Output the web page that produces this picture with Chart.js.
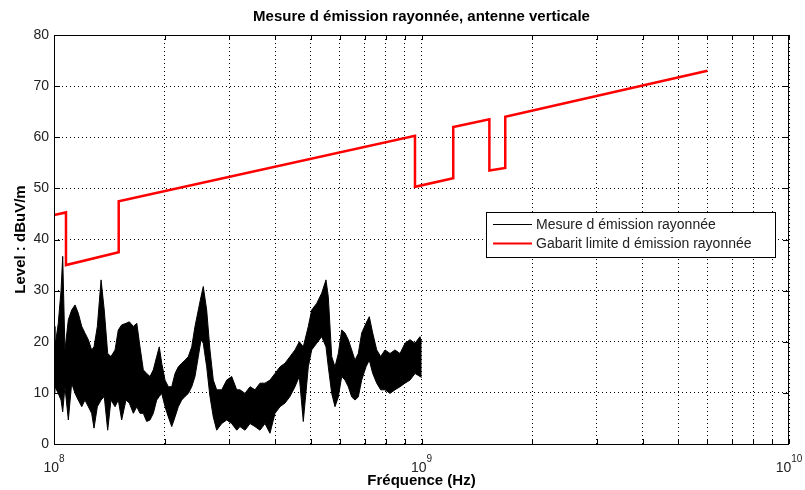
<!DOCTYPE html>
<html>
<head>
<meta charset="utf-8">
<script src="https://cdn.jsdelivr.net/npm/chart.js@4.4.1/dist/chart.umd.min.js"></script>
<style>
  html, body { margin: 0; padding: 0; background: #fff; }
  #wrap { width: 805px; height: 490px; }
</style>
</head>
<body>
<div id="wrap"><canvas id="chart" width="805" height="490"></canvas></div>
<script>
const measFreqMHz = [
  100, 100.6, 102.7, 104.5, 105.6, 107.1, 109.4, 111.7, 114.1, 116.4, 119.0, 121.4, 124.0, 126.6,
  128.5, 131.2, 134.3, 137.0, 140.0, 142.9, 146.6, 149.6, 152.8, 157.0, 160.3, 164.4, 168.0, 171.4,
  175.0, 178.7, 182.5, 186.3, 190.3, 193.4, 196.4, 200.5, 204.7, 209.1, 213.5, 217.9, 222.6, 227.3,
  232.0, 237.0, 241.9, 247.0, 251.2, 254.8, 260.3, 265.7, 271.3, 277.1, 286.0, 295.1, 304.5, 314.2,
  320.7, 330.9, 341.5, 352.3, 363.5, 375.1, 387.0, 399.4, 412.1, 425.2, 438.7, 452.7, 465.0, 476.8,
  492.0, 502.6, 518.6, 535.1, 549.7, 557.7, 569.7, 581.6, 593.8, 606.5, 619.2, 632.2, 645.8, 659.2,
  673.0, 687.5, 706.3, 721.0, 736.6, 755.3, 774.4, 795.6, 820.9, 847.0, 874.0, 901.8, 930.5, 960.1,
  990.6, 1000
];
const measHigh = [
  23, 19, 23.6, 30, 36.7, 18.4, 24.3, 26.2, 27.2, 25.6, 23, 21.7, 20.4, 18.4,
  19, 23, 32.1, 26.2, 17.7, 17.1, 18.4, 22.3, 23.3, 23.6, 23.9, 23, 23.6, 19,
  14.5, 13.8, 13.2, 14.5, 17.1, 19, 15.8, 12.5, 11.2, 11.2, 13.8, 15.1, 15.8, 16.4,
  17.1, 19, 23, 26.2, 28.8, 30.8, 26.2, 18.4, 12.5, 10.6, 10.6, 12.5, 13.2, 10.6,
  10.6, 9.9, 11.2, 10.6, 11.9, 11.9, 12.5, 13.8, 15.1, 15.8, 17.1, 18.4, 20, 19,
  23, 26.2, 27.5, 29.5, 32.1, 28.8, 17.1, 15.1, 17.7, 22.3, 21.7, 20.4, 18.4, 16.4,
  17.7, 21.7, 23.6, 24.9, 21.7, 18.4, 17.1, 18.4, 17.7, 18.4, 17.7, 19.7, 20.4, 19.7,
  21, 20
];
const measLow = [
  10, 11.2, 9.9, 8.6, 6.3, 11.2, 4.7, 11.9, 9.9, 8.6, 7.3, 8.6, 7.3, 6,
  3.1, 7.3, 8.6, 9.3, 2.7, 8.6, 7.3, 8.6, 4.7, 8.6, 8, 6, 7.3, 6,
  6, 4.4, 4.7, 6, 8.6, 9.3, 9.9, 7.3, 5.3, 3.4, 5.3, 7.3, 8.6, 9.3,
  9.9, 11.2, 13.2, 17.1, 20.4, 19.7, 15.1, 9.3, 5.3, 2.7, 4, 4.7, 4, 2.7,
  3.4, 2.7, 4, 3.4, 2.7, 4, 2.1, 6, 7.3, 8, 9.3, 11.2, 13.2, 4.4,
  15.1, 18.4, 19.7, 21, 19, 15.1, 9.9, 7.3, 9.2, 13.2, 12.5, 11.2, 9.2, 8.6,
  9.2, 12.5, 15.1, 16.4, 13.8, 11.9, 10.6, 10.6, 9.9, 10.6, 11.2, 11.9, 12.5, 13.8,
  13.2, 13
];

// Emission limit mask (Hz, dBuV/m)
const limitFreqHz = [1e8, 1.078e8, 1.078e8, 1.5e8, 1.5e8, 9.6e8, 9.6e8, 1.22e9, 1.22e9, 1.53e9, 1.53e9, 1.69e9, 1.69e9, 6e9];
const limitLevel  = [44.8, 45.3, 35, 37.5, 47.5, 60.3, 50.3, 52, 62, 63.5, 53.5, 54, 64, 73];

const X_DECADES = [8, 9, 10];
const Y_TICKS = [0, 10, 20, 30, 40, 50, 60, 70, 80];
const LEGEND_LABELS = ['Mesure d émission rayonnée', 'Gabarit limite d émission rayonnée'];

const FONT = "'Liberation Sans', Arial, Helvetica, sans-serif";
Chart.defaults.font.family = FONT;

// log grid positions: 1..9 x 10^n
const xGrid = [];
for (let e = 8; e < 10; e++) {
  for (let m = 1; m < 10; m++) xGrid.push(m * Math.pow(10, e));
}
xGrid.push(1e10);

const toPoints = (xs, ys, k) => xs.map((f, i) => ({ x: f * k, y: ys[i] }));

// --- Solid band between the upper and lower envelope datasets ---
const bandFill = {
  id: 'bandFill',
  beforeDatasetsDraw(chart) {
    const { ctx, chartArea: a } = chart;
    const hi = chart.getDatasetMeta(0).data;
    const lo = chart.getDatasetMeta(1).data;
    ctx.save();
    ctx.beginPath();
    ctx.rect(a.left, a.top, a.right - a.left, a.bottom - a.top);
    ctx.clip();
    ctx.beginPath();
    hi.forEach((p, i) => (i ? ctx.lineTo(p.x, p.y) : ctx.moveTo(p.x, p.y)));
    for (let i = lo.length - 1; i >= 0; i--) ctx.lineTo(lo[i].x, lo[i].y);
    ctx.closePath();
    ctx.fillStyle = '#000';
    ctx.fill();
    ctx.restore();
  },
};

// --- Box, inward ticks, x labels, title and legend (MATLAB look) ---
const matlabFrame = {
  id: 'matlabFrame',
  afterDraw(chart) {
    const { ctx, chartArea: a, scales: { x, y } } = chart;
    ctx.save();
    ctx.strokeStyle = '#000';
    ctx.lineWidth = 1;
    ctx.setLineDash([]);
    ctx.strokeRect(a.left + 0.5, a.top + 0.5, a.right - a.left - 1, a.bottom - a.top);

    ctx.beginPath();
    for (const v of xGrid) {
      const px = Math.round(x.getPixelForValue(v)) + 0.5;
      ctx.moveTo(px, a.bottom); ctx.lineTo(px, a.bottom - 5);
      ctx.moveTo(px, a.top); ctx.lineTo(px, a.top + 5);
    }
    for (const v of Y_TICKS) {
      const py = Math.round(y.getPixelForValue(v)) + 0.5;
      ctx.moveTo(a.left, py); ctx.lineTo(a.left + 6, py);
      ctx.moveTo(a.right, py); ctx.lineTo(a.right - 6, py);
    }
    ctx.stroke();

    // x tick labels 10^n
    ctx.fillStyle = '#222';
    ctx.textBaseline = 'alphabetic';
    ctx.textAlign = 'left';
    for (const e of X_DECADES) {
      const px = x.getPixelForValue(Math.pow(10, e));
      ctx.font = '14px ' + FONT;
      const w1 = ctx.measureText('10').width;
      ctx.font = '10px ' + FONT;
      const w2 = ctx.measureText(String(e)).width;
      const x0 = px - (w1 + w2) / 2;
      ctx.font = '14px ' + FONT;
      ctx.fillText('10', x0, 472);
      ctx.font = '10px ' + FONT;
      ctx.fillText(String(e), x0 + w1, 462);
    }

    // title
    ctx.fillStyle = '#000';
    ctx.font = 'bold 15px ' + FONT;
    ctx.textAlign = 'center';
    ctx.textBaseline = 'middle';
    ctx.fillText('Mesure d émission rayonnée, antenne verticale', (a.left + a.right) / 2, 17);

    // legend
    const lx = 486.5, ly = 212.5, lw = 289, lh = 45;
    ctx.fillStyle = '#fff';
    ctx.fillRect(lx, ly, lw, lh);
    ctx.strokeStyle = '#000';
    ctx.strokeRect(lx, ly, lw, lh);
    const rows = [
      { color: '#000', width: 1, y: 224.5 },
      { color: '#ff0000', width: 2, y: 243.5 },
    ];
    ctx.font = '14px ' + FONT;
    ctx.textAlign = 'left';
    rows.forEach((r, i) => {
      ctx.strokeStyle = r.color;
      ctx.lineWidth = r.width;
      ctx.beginPath();
      ctx.moveTo(493, r.y); ctx.lineTo(532, r.y);
      ctx.stroke();
      ctx.fillStyle = '#222';
      ctx.fillText(LEGEND_LABELS[i], 536, r.y + 1);
    });
    ctx.restore();
  },
};

new Chart(document.getElementById('chart'), {
  type: 'line',
  data: {
    datasets: [
      {
        label: LEGEND_LABELS[0],
        data: toPoints(measFreqMHz, measHigh, 1e6),
        borderColor: '#000',
        borderWidth: 1,
        pointRadius: 0,
        fill: false,
        tension: 0,
      },
      {
        label: 'low',
        data: toPoints(measFreqMHz, measLow, 1e6),
        borderColor: '#000',
        borderWidth: 1,
        pointRadius: 0,
        fill: false,
        tension: 0,
      },
      {
        label: LEGEND_LABELS[1],
        data: toPoints(limitFreqHz, limitLevel, 1),
        borderColor: '#ff0000',
        borderWidth: 2.5,
        pointRadius: 0,
        fill: false,
        tension: 0,
      },
    ],
  },
  options: {
    responsive: false,
    animation: false,
    devicePixelRatio: 1,
    layout: { padding: { left: 0, right: 16, top: 35, bottom: 0 } },
    plugins: {
      legend: { display: false },
      title: { display: false },
      tooltip: { enabled: false },
    },
    scales: {
      x: {
        type: 'logarithmic',
        min: 1e8,
        max: 1e10,
        afterBuildTicks: (s) => { s.ticks = xGrid.map(v => ({ value: v })); },
        afterFit: (s) => { s.height = 46; },
        ticks: { display: false },
        grid: { color: '#000', lineWidth: 1, drawTicks: false },
        border: { display: false, dash: [1, 3] },
        title: {
          display: true,
          text: 'Fréquence (Hz)',
          color: '#000',
          font: { size: 15, weight: 'bold' },
          padding: { top: 0, bottom: 0 },
        },
      },
      y: {
        min: 0,
        max: 80,
        afterFit: (s) => { s.width = 54; },
        ticks: { stepSize: 10, color: '#222', font: { size: 14 }, padding: 5 },
        grid: { color: '#000', lineWidth: 1, drawTicks: false },
        border: { display: false, dash: [1, 3] },
        title: {
          display: true,
          text: 'Level : dBuV/m',
          color: '#000',
          font: { size: 15, weight: 'bold' },
          padding: { top: 12, bottom: 0 },
        },
      },
    },
  },
  plugins: [bandFill, matlabFrame],
});
</script>
</body>
</html>
